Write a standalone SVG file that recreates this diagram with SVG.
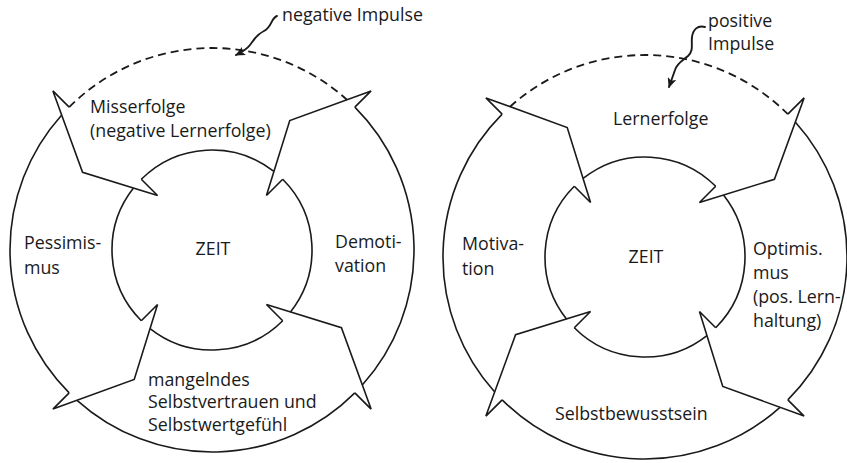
<svg xmlns="http://www.w3.org/2000/svg" width="847" height="463" viewBox="0 0 847 463">
  <style>
    .ring { fill: none; stroke: #1a1a1a; stroke-width: 1.6; }
    .dash { stroke-dasharray: 8 5; stroke-width: 1.8; }
    .head { fill: none; stroke: #1a1a1a; stroke-width: 1.6; stroke-linejoin: miter; }
    .impulse { fill: none; stroke: #1a1a1a; stroke-width: 1.9; stroke-linecap: round; }
    text { font-family: "Open Sans", "Liberation Sans", sans-serif; font-size: 17.8px; fill: #1a1a1a; }
  </style>
  <defs>
    <!-- one ring arrowhead, base on the +x axis, tip turned 14 degrees clockwise -->
    <path id="head" class="head" d="M202,0 L225,0 L146.51,36.53 L77,0 L100,0"/>
    <marker id="impulse-tip" viewBox="0 0 10 9" markerWidth="10" markerHeight="9" refX="9" refY="4.5" orient="auto" markerUnits="userSpaceOnUse">
      <path d="M0,0 L10,4.5 L0,9 L2.5,4.5 z" fill="#1a1a1a"/>
    </marker>
  </defs>

  <g id="connectors">
    <!-- negative cycle: arrows run counter-clockwise -->
    <g id="cycle-negative" transform="translate(212,250)">
      <path class="ring dash" d="M-142.84,-142.84 A202,202 0 0 1 134.98,-150.28"/>
      <path class="ring" d="M142.84,-142.84 A202,202 0 0 1 150.28,134.98"/>
      <path class="ring" d="M142.84,142.84 A202,202 0 0 1 -134.98,150.28"/>
      <path class="ring" d="M-142.84,142.84 A202,202 0 0 1 -150.28,-134.98"/>
      <path class="ring" d="M-70.71,-70.71 A100,100 0 0 1 61.93,-78.51"/>
      <path class="ring" d="M70.71,-70.71 A100,100 0 0 1 78.51,61.93"/>
      <path class="ring" d="M70.71,70.71 A100,100 0 0 1 -61.93,78.51"/>
      <path class="ring" d="M-70.71,70.71 A100,100 0 0 1 -78.51,-61.93"/>
      <use href="#head" transform="rotate(-135) scale(1,-1)"/>
      <use href="#head" transform="rotate(-45) scale(1,-1)"/>
      <use href="#head" transform="rotate(45) scale(1,-1)"/>
      <use href="#head" transform="rotate(135) scale(1,-1)"/>
    </g>
    <!-- positive cycle: arrows run clockwise -->
    <g id="cycle-positive" transform="translate(645,257)">
      <path class="ring dash" d="M-134.98,-150.28 A202,202 0 0 1 142.84,-142.84"/>
      <path class="ring" d="M150.28,-134.98 A202,202 0 0 1 142.84,142.84"/>
      <path class="ring" d="M134.98,150.28 A202,202 0 0 1 -142.84,142.84"/>
      <path class="ring" d="M-150.28,134.98 A202,202 0 0 1 -142.84,-142.84"/>
      <path class="ring" d="M-61.93,-78.51 A100,100 0 0 1 70.71,-70.71"/>
      <path class="ring" d="M78.51,-61.93 A100,100 0 0 1 70.71,70.71"/>
      <path class="ring" d="M61.93,78.51 A100,100 0 0 1 -70.71,70.71"/>
      <path class="ring" d="M-78.51,61.93 A100,100 0 0 1 -70.71,-70.71"/>
      <use href="#head" transform="rotate(-135)"/>
      <use href="#head" transform="rotate(-45)"/>
      <use href="#head" transform="rotate(45)"/>
      <use href="#head" transform="rotate(135)"/>
    </g>
    <!-- impulse arrows -->
    <path id="impulse-negative" class="impulse" marker-end="url(#impulse-tip)" d="M277,16 C271,18 272,27 264,31 C256,35 254,40 250,45 C247,49 242,52 236,55"/>
    <path id="impulse-positive" class="impulse" marker-end="url(#impulse-tip)" d="M705,27 C697,25 693,30 692,37 C691,45 694,50 688,56 C682,61 677,63 675,70 L669,87"/>
  </g>

  <!-- negative cycle labels -->
  <g id="neg-impulse"><text x="282" y="21">negative Impulse</text></g>
  <g id="neg-misserfolge"><text x="90" y="113">Misserfolge</text><text x="90" y="137">(negative Lernerfolge)</text></g>
  <g id="neg-pessimismus"><text x="24" y="249">Pessimis-</text><text x="24" y="274">mus</text></g>
  <g id="neg-zeit"><text x="213" y="255" text-anchor="middle">ZEIT</text></g>
  <g id="neg-demotivation"><text x="335" y="248">Demoti-</text><text x="335" y="272">vation</text></g>
  <g id="neg-selbstvertrauen"><text x="148" y="386">mangelndes</text><text x="148" y="408">Selbstvertrauen und</text><text x="148" y="431">Selbstwertgefühl</text></g>

  <!-- positive cycle labels -->
  <g id="pos-impulse"><text x="708" y="27">positive</text><text x="708" y="50">Impulse</text></g>
  <g id="pos-lernerfolge"><text x="613" y="125">Lernerfolge</text></g>
  <g id="pos-motivation"><text x="462" y="250">Motiva-</text><text x="462" y="275">tion</text></g>
  <g id="pos-zeit"><text x="646" y="263" text-anchor="middle">ZEIT</text></g>
  <g id="pos-optimismus"><text x="753" y="255">Optimis.</text><text x="753" y="279">mus</text><text x="753" y="303">(pos. Lern-</text><text x="753" y="327">haltung)</text></g>
  <g id="pos-selbstbewusstsein"><text x="555" y="420">Selbstbewusstsein</text></g>
</svg>
